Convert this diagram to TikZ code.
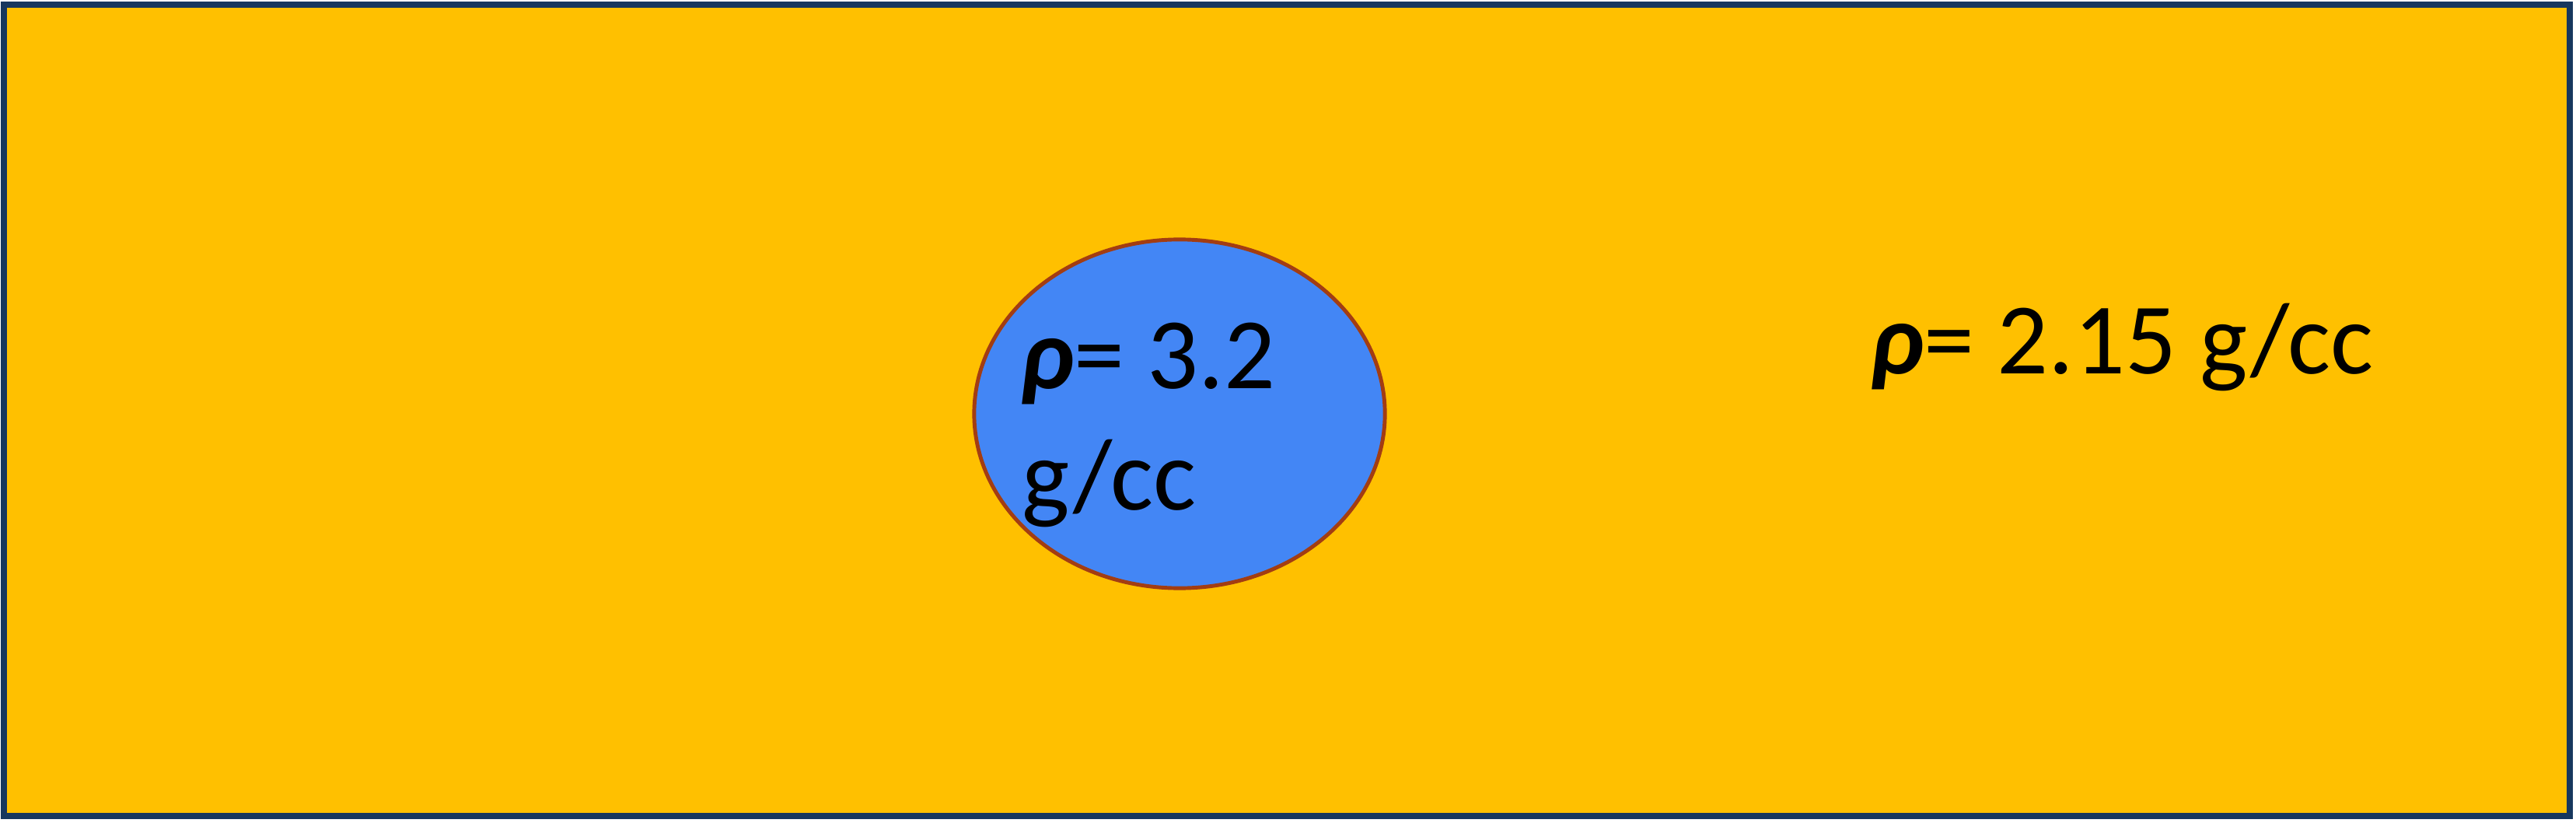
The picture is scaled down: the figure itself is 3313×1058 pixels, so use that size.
\documentclass[tikz,border=0pt]{standalone}
\usepackage{fontspec}
\setmainfont{Carlito}
\usetikzlibrary{shapes.geometric}
\definecolor{rectfill}{HTML}{FFC000}
\definecolor{rectline}{HTML}{17375E}
\definecolor{ellfill}{HTML}{4386F5}
\definecolor{ellline}{HTML}{A33D12}
\tikzset{
  label text/.style={anchor=base west, inner sep=0pt, font=\fontsize{37}{44}\selectfont, text=black},
  blobshape/.style={draw=ellline, fill=ellfill, line width=1.4pt, ellipse, minimum width=5.28cm, minimum height=4.48cm, inner sep=0pt, outer sep=0pt},
  boxshape/.style={draw=rectline, fill=rectfill, line width=2.3pt, rectangle, minimum width=32.98cm, minimum height=10.43cm, inner sep=0pt, outer sep=0pt},
}
\begin{document}
\begin{tikzpicture}[x=0.01cm,y=-0.01cm]
\useasboundingbox (0,0) rectangle (3313,1058);
\fill[white] (0,0) rectangle (3313,1058);
\node[boxshape] (box) at (1655,527.5) {};
\node[blobshape] (blob) at (1517,532) {};
\node[label text] (inA) at (1312,499) {\textbf{\textit{ρ}}= 3.2};
\node[label text] (inB) at (1314,655) {g/cc};
\node[label text] (outer) at (2405,480) {\textbf{\textit{ρ}}= 2.15 g/cc};
\end{tikzpicture}
\end{document}
